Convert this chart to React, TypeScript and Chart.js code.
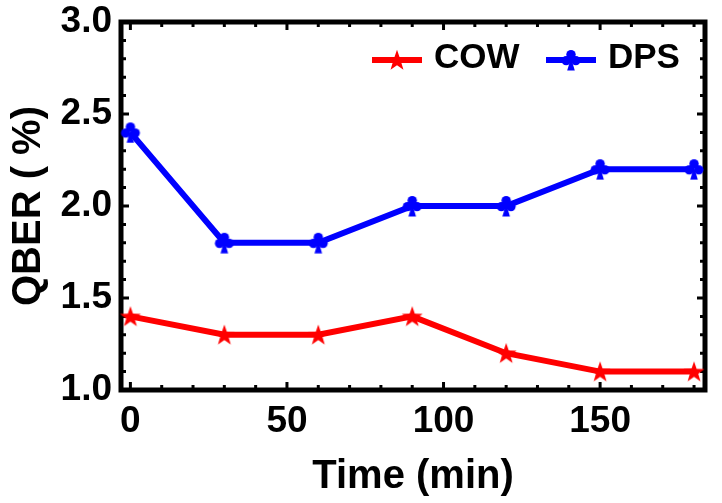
import React, { useEffect, useRef } from 'react';
import { Chart, registerables } from 'chart.js';

Chart.register(...registerables);

// ---- data ----
const times = [0, 30, 60, 90, 120, 150, 180];
const cowQber = [1.4, 1.3, 1.3, 1.4, 1.2, 1.1, 1.1];
const dpsQber = [2.4, 1.8, 1.8, 2.0, 2.0, 2.2, 2.2];
const seriesLabels = ['COW', 'DPS'];
const xTickValues = [0, 50, 100, 150];
const yTickValues = [1.0, 1.5, 2.0, 2.5, 3.0];
const xMinorTicks = [0, 10, 20, 30, 40, 50, 60, 70, 80, 90, 100, 110, 120, 130, 140, 150, 160, 170, 180];
const yMinorTicks = [1.0, 1.1, 1.2, 1.3, 1.4, 1.5, 1.6, 1.7, 1.8, 1.9, 2.0, 2.1, 2.2, 2.3, 2.4, 2.5, 2.6, 2.7, 2.8, 2.9, 3.0];
const xTitle = 'Time (min)';
const yTitle = 'QBER ( %)';

const FONT = "'Liberation Sans', Arial, Helvetica, sans-serif";
const RED = '#ff0000';
const BLUE = '#0000ff';

function makeStar(color: string): HTMLCanvasElement {
  const c = document.createElement('canvas');
  c.width = 24;
  c.height = 24;
  const g = c.getContext('2d')!;
  const cx = 12, cy = 12.8, R = 11, r = 4.4;
  g.beginPath();
  for (let i = 0; i < 10; i++) {
    const ang = -Math.PI / 2 + (i * Math.PI) / 5;
    const rad = i % 2 === 0 ? R : r;
    const px = cx + rad * Math.cos(ang);
    const py = cy + rad * Math.sin(ang);
    if (i === 0) g.moveTo(px, py);
    else g.lineTo(px, py);
  }
  g.closePath();
  g.fillStyle = color;
  g.fill();
  return c;
}

function makeClub(color: string): HTMLCanvasElement {
  const c = document.createElement('canvas');
  c.width = 22;
  c.height = 22;
  const g = c.getContext('2d')!;
  g.fillStyle = color;
  const lobe = (x: number, y: number, r: number) => {
    g.beginPath();
    g.arc(x, y, r, 0, Math.PI * 2);
    g.fill();
  };
  lobe(11, 5.6, 4.7);
  lobe(6.2, 11.6, 4.7);
  lobe(15.8, 11.6, 4.7);
  g.beginPath();
  g.moveTo(11, 9);
  g.lineTo(7.2, 21.5);
  g.lineTo(14.8, 21.5);
  g.closePath();
  g.fill();
  return c;
}

export default function App() {
  const ref = useRef<HTMLCanvasElement | null>(null);

  useEffect(() => {
    document.body.style.margin = '0';
    const canvas = ref.current!;
    const star = makeStar(RED);
    const club = makeClub(BLUE);

    const framePlugin = {
      id: 'frameTicks',
      beforeDatasetsDraw(chart: any) {
        const { ctx, chartArea } = chart;
        const { left, right, top, bottom } = chartArea;
        const xs = chart.scales.x;
        const ys = chart.scales.y;
        ctx.save();
        ctx.strokeStyle = '#000';
        ctx.lineCap = 'butt';
        ctx.lineWidth = 3;
        const major = 8;
        const minor = 5;
        xMinorTicks.forEach((v) => {
          const px = xs.getPixelForValue(v);
          const len = xTickValues.includes(v) ? major : minor;
          ctx.beginPath();
          ctx.moveTo(px, bottom);
          ctx.lineTo(px, bottom - len);
          ctx.moveTo(px, top);
          ctx.lineTo(px, top + len);
          ctx.stroke();
        });
        yMinorTicks.forEach((v) => {
          const py = ys.getPixelForValue(v);
          const len = yTickValues.some((t) => Math.abs(t - v) < 1e-9) ? major : minor;
          ctx.beginPath();
          ctx.moveTo(left, py);
          ctx.lineTo(left + len, py);
          ctx.moveTo(right, py);
          ctx.lineTo(right - len, py);
          ctx.stroke();
        });
        ctx.lineWidth = 5;
        ctx.lineJoin = 'miter';
        ctx.strokeRect(left, top, right - left, bottom - top);
        ctx.restore();
      },
    };

    const legendPlugin = {
      id: 'customLegend',
      afterDatasetsDraw(chart: any) {
        const { ctx, chartArea } = chart;
        const entries = [
          { x: chartArea.right - 333, label: seriesLabels[0], color: RED, img: star },
          { x: chartArea.right - 159, label: seriesLabels[1], color: BLUE, img: club },
        ];
        const ly = chartArea.top + 38;
        ctx.save();
        entries.forEach((e) => {
          ctx.strokeStyle = e.color;
          ctx.lineWidth = 6;
          ctx.beginPath();
          ctx.moveTo(e.x, ly);
          ctx.lineTo(e.x + 50, ly);
          ctx.stroke();
          ctx.drawImage(e.img, e.x + 25 - e.img.width / 2, ly - e.img.height / 2);
          ctx.fillStyle = '#000';
          ctx.font = `bold 35px ${FONT}`;
          ctx.textAlign = 'left';
          ctx.textBaseline = 'alphabetic';
          ctx.fillText(e.label, e.x + 62, ly + 8);
        });
        ctx.restore();
      },
    };

    const zeroPad = (scale: any) => {
      scale.paddingTop = 0;
      scale.paddingBottom = 0;
      scale.paddingLeft = 0;
      scale.paddingRight = 0;
    };

    const chart = new Chart(canvas, {
      type: 'line',
      data: {
        datasets: [
          {
            label: seriesLabels[0],
            data: times.map((t, i) => ({ x: t, y: cowQber[i] })),
            borderColor: RED,
            backgroundColor: RED,
            borderWidth: 6,
            pointStyle: star as any,
            pointRadius: 11,
            pointHoverRadius: 11,
            clip: false as any,
            tension: 0,
          },
          {
            label: seriesLabels[1],
            data: times.map((t, i) => ({ x: t, y: dpsQber[i] })),
            borderColor: BLUE,
            backgroundColor: BLUE,
            borderWidth: 6,
            pointStyle: club as any,
            pointRadius: 11,
            pointHoverRadius: 11,
            clip: false as any,
            tension: 0,
          },
        ],
      },
      options: {
        animation: false,
        responsive: false,
        devicePixelRatio: 1,
        events: [],
        layout: { padding: { top: 22, right: 6, left: 0, bottom: 0 } },
        plugins: {
          legend: { display: false },
          tooltip: { enabled: false },
        },
        scales: {
          x: {
            type: 'linear',
            min: -3,
            max: 183.5,
            grid: { display: false, drawTicks: false },
            border: { display: false },
            afterBuildTicks: (scale: any) => {
              scale.ticks = xTickValues.map((v) => ({ value: v }));
            },
            afterFit: (scale: any) => {
              scale.height = 113;
              zeroPad(scale);
            },
            ticks: {
              color: '#000',
              padding: 10,
              maxRotation: 0,
              autoSkip: false,
              font: { family: FONT, size: 37, weight: 'bold', lineHeight: 1.2 },
              callback: (v: any) => String(v),
            },
            title: {
              display: true,
              text: xTitle,
              color: '#000',
              font: { family: FONT, size: 40, weight: 'bold', lineHeight: 1.2 },
              padding: { top: 0, bottom: 2 },
            },
          },
          y: {
            type: 'linear',
            min: 1.0,
            max: 3.0,
            grid: { display: false, drawTicks: false },
            border: { display: false },
            afterBuildTicks: (scale: any) => {
              scale.ticks = yTickValues.map((v) => ({ value: v }));
            },
            afterFit: (scale: any) => {
              scale.width = 121;
              zeroPad(scale);
            },
            ticks: {
              color: '#000',
              padding: 9,
              autoSkip: false,
              font: { family: FONT, size: 37, weight: 'bold', lineHeight: 1.2 },
              callback: (v: any) => Number(v).toFixed(1),
            },
            title: {
              display: true,
              text: yTitle,
              color: '#000',
              font: { family: FONT, size: 40, weight: 'bold', lineHeight: 1.2 },
              padding: { top: 5, bottom: 0 },
            },
          },
        },
      },
      plugins: [framePlugin, legendPlugin],
    } as any);

    return () => chart.destroy();
  }, []);

  return (
    <div style={{ position: 'fixed', left: 0, top: 0, width: 722, height: 503, background: '#fff' }}>
      <canvas ref={ref} width={722} height={503} style={{ display: 'block' }} />
    </div>
  );
}
